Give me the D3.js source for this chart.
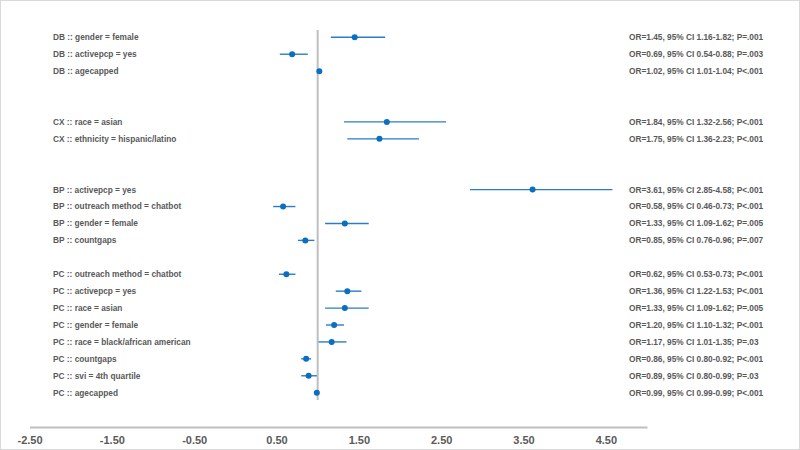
<!DOCTYPE html>
<html>
<head>
<meta charset="utf-8">
<script src="https://cdn.jsdelivr.net/npm/d3@7"></script>
<style>
  html, body { margin: 0; padding: 0; background: #fff; }
  svg { display: block; font-family: "Liberation Sans", Arial, sans-serif; }
</style>
</head>
<body>
<svg id="chart" width="800" height="450"></svg>
<script>
// Odds ratios per outcome group (DB, CX, BP, PC)
const groups = ["DB", "CX", "BP", "PC"]
const categories = [
  ["gender = female", "activepcp = yes", "agecapped"],
  ["race = asian", "ethnicity = hispanic/latino"],
  ["activepcp = yes", "outreach method = chatbot", "gender = female", "countgaps"],
  ["outreach method = chatbot", "activepcp = yes", "race = asian", "gender = female",
   "race = black/african american", "countgaps", "svi = 4th quartile", "agecapped"]
]
const oddsRatio = [
  [1.45, 0.69, 1.02],
  [1.84, 1.75],
  [3.61, 0.58, 1.33, 0.85],
  [0.62, 1.36, 1.33, 1.20, 1.17, 0.86, 0.89, 0.99]
]
const ciLow = [
  [1.16, 0.54, 1.01],
  [1.32, 1.36],
  [2.85, 0.46, 1.09, 0.76],
  [0.53, 1.22, 1.09, 1.10, 1.01, 0.80, 0.80, 0.99]
]
const ciHigh = [
  [1.82, 0.88, 1.04],
  [2.56, 2.23],
  [4.58, 0.73, 1.62, 0.96],
  [0.73, 1.53, 1.62, 1.32, 1.35, 0.92, 0.99, 0.99]
]
const pValues = [
  ["=.001", "=.003", "<.001"],
  ["<.001", "<.001"],
  ["<.001", "<.001", "=.005", "=.007"],
  ["<.001", "<.001", "=.005", "<.001", "=.03", "<.001", "=.03", "<.001"]
]
const xTicks = [-2.5, -1.5, -0.5, 0.5, 1.5, 2.5, 3.5, 4.5]
const nullValue = 1

// blank rows left after each group
const gapAfter = [2, 2, 1, 0]

const svg = d3.select("#chart")
const width = 800, height = 450
const textColor = "#595959"
const lineColor = "#bfbfbf"

// build the row list with the spacing between groups
const rows = []
let idx = 0
groups.forEach((g, gi) => {
  categories[gi].forEach((c, ci) => {
    rows.push({
      label: `${g} :: ${c}`,
      or: oddsRatio[gi][ci],
      lo: ciLow[gi][ci],
      hi: ciHigh[gi][ci],
      p: pValues[gi][ci],
      row: idx++
    })
  })
  idx += gapAfter[gi]
})

const x = d3.scaleLinear().domain([-2.5, 5]).range([29.5, 647])
const y = d3.scaleLinear().domain([0, idx - 1]).range([37.3, 392.7])

// frame
svg.append("rect")
  .attr("x", 0.5).attr("y", 0.5)
  .attr("width", width - 1).attr("height", height - 1)
  .attr("fill", "none").attr("stroke", "#d9d9d9")

// reference line at OR = 1
svg.append("line")
  .attr("x1", x(nullValue)).attr("x2", x(nullValue))
  .attr("y1", 30).attr("y2", 400)
  .attr("stroke", lineColor).attr("stroke-width", 2)

// x axis
const axis = svg.append("g")
  .attr("transform", "translate(0,427)")
  .call(d3.axisBottom(x).tickValues(xTicks).tickSize(0).tickPadding(9)
    .tickFormat(d => d.toFixed(2)))
axis.select(".domain").attr("stroke", lineColor).attr("stroke-width", 2)
axis.selectAll("text")
  .attr("fill", textColor)
  .attr("font-size", 11)
  .attr("font-weight", "bold")
  .attr("font-family", "'Liberation Sans', Arial, sans-serif")

const rowG = svg.append("g").selectAll("g")
  .data(rows)
  .join("g")
  .attr("transform", d => `translate(0,${y(d.row)})`)

rowG.append("text")
  .attr("x", 53).attr("dy", "0.35em")
  .attr("font-size", 8.3).attr("font-weight", "bold")
  .attr("fill", textColor)
  .text(d => d.label)

rowG.append("line")
  .attr("x1", d => x(d.lo)).attr("x2", d => x(d.hi))
  .attr("stroke", "#2a7dc6").attr("stroke-width", 1.4)

rowG.append("circle")
  .attr("cx", d => x(d.or)).attr("r", 3)
  .attr("fill", "#0b6fbf")

rowG.append("text")
  .attr("x", 629).attr("dy", "0.35em")
  .attr("font-size", 8.3).attr("font-weight", "bold")
  .attr("fill", textColor)
  .text(d => `OR=${d.or.toFixed(2)}, 95% CI ${d.lo.toFixed(2)}-${d.hi.toFixed(2)}; P${d.p}`)
</script>
</body>
</html>
